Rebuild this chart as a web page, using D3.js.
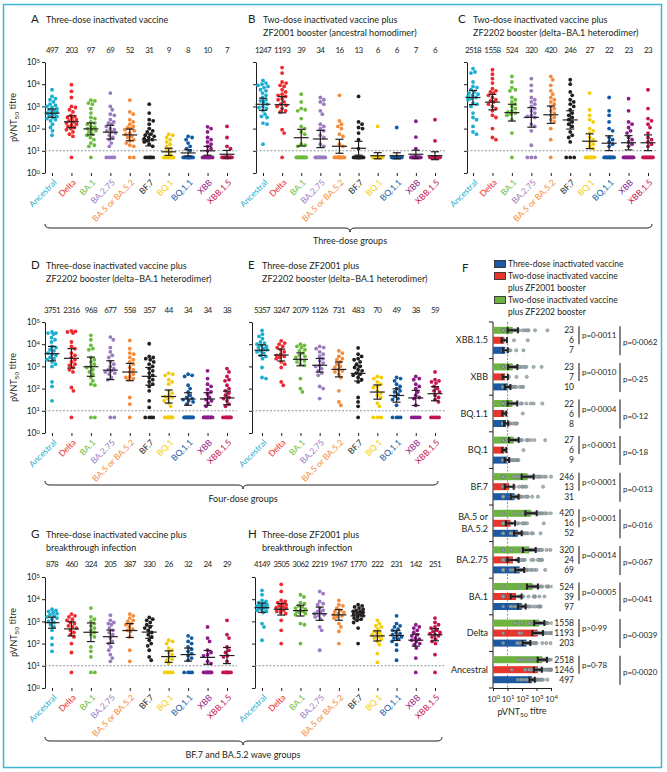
<!DOCTYPE html>
<html>
<head>
<meta charset="utf-8">
<script src="https://cdn.jsdelivr.net/npm/d3@7"></script>
<style>
body { margin: 0; background: #fff; }
svg { font-family: Lato, 'Open Sans', sans-serif; }
</style>
</head>
<body>
<div class="chart"></div>
<script>
var ink = '#231f20';

var cats = ['Ancestral', 'Delta', 'BA.1', 'BA.2.75', 'BA.5 or BA.5.2', 'BF.7', 'BQ.1', 'BQ.1.1', 'XBB', 'XBB.1.5'];
var catColors = ['#1aaed1', '#ee2a2e', '#6cbb3c', '#9b7bbf', '#f58b38', '#231f20', '#f4cd0a', '#0f5aa5', '#8b1b88', '#c4134f'];

// geometric mean titres printed above each column
var gmtA = [497, 203, 97, 69, 52, 31, 9, 8, 10, 7];
var gmtB = [1247, 1193, 39, 34, 16, 13, 6, 6, 7, 6];
var gmtC = [2518, 1558, 524, 320, 420, 246, 27, 22, 23, 23];
var gmtD = [3751, 2316, 968, 677, 558, 357, 44, 34, 34, 38];
var gmtE = [5357, 3247, 2079, 1126, 731, 483, 70, 49, 38, 59];
var gmtG = [878, 460, 324, 205, 387, 330, 26, 32, 24, 29];
var gmtH = [4149, 3505, 3062, 2219, 1967, 1770, 222, 231, 142, 251];

// individual titres, log10 pVNT50 (0.7 = below detection limit)
var titresA = [
  [3.75,3.45,3.35,3.3,3.2,3.1,3.05,3.0,2.95,2.9,2.85,2.8,2.75,2.7,2.7,2.65,2.6,2.55,2.5,2.45,2.4,2.35,2.2,2.05,1.9,1.7],
  [3.98,3.68,3.4,3.0,2.95,2.85,2.75,2.6,2.55,2.5,2.45,2.4,2.35,2.3,2.25,2.2,2.15,2.1,2.05,2.0,1.95,1.85,1.75,1.65,0.7],
  [3.28,3.25,3.15,3.1,2.9,2.7,2.5,2.45,2.3,2.25,2.2,2.1,2.05,2.0,1.95,1.9,1.85,1.75,1.7,1.6,1.5,1.35,1.25,1.2,0.7],
  [3.6,3.0,2.85,2.65,2.6,2.4,2.3,2.25,2.2,2.1,2.0,1.95,1.9,1.85,1.8,1.7,1.6,1.5,1.35,1.2,0.7,0.7,0.7,0.7,0.7],
  [3.28,2.75,2.65,2.4,2.3,2.2,2.1,2.05,2.0,1.95,1.9,1.8,1.75,1.65,1.6,1.5,1.45,1.35,1.25,1.2,0.7,0.7],
  [3.1,2.7,2.4,2.35,2.2,2.0,1.9,1.85,1.75,1.7,1.65,1.6,1.55,1.5,1.45,1.4,1.3,1.2,0.7,0.7,0.7,0.7,0.7,0.7],
  [1.75,1.7,1.6,1.5,1.4,1.3,1.2,1.1,1.0,0.9,0.7,0.7,0.7,0.7,0.7,0.7,0.7,0.7,0.7,0.7,0.7,0.7],
  [1.65,1.6,1.5,1.35,1.2,1.1,1.0,0.7,0.7,0.7,0.7,0.7,0.7,0.7,0.7,0.7,0.7,0.7,0.7,0.7,0.7],
  [2.08,2.0,1.85,1.6,1.5,1.4,1.3,1.2,1.1,1.0,0.7,0.7,0.7,0.7,0.7,0.7,0.7,0.7,0.7,0.7,0.7,0.7],
  [2.1,1.6,1.2,1.1,0.7,0.7,0.7,0.7,0.7,0.7,0.7,0.7,0.7,0.7,0.7,0.7,0.7,0.7,0.7]
];
var titresB = [
  [4.17,4.05,4.0,3.95,3.9,3.85,3.75,3.7,3.6,3.5,3.4,3.3,3.25,3.2,3.1,3.0,2.95,2.9,2.8,2.65,2.55,2.5,2.25,2.2,1.3],
  [4.75,4.5,4.1,4.05,3.95,3.9,3.75,3.65,3.55,3.5,3.45,3.35,3.3,3.2,3.1,3.05,3.0,2.9,2.8,2.75,1.95,1.8,0.7],
  [3.55,3.2,2.9,2.85,2.8,2.45,2.1,2.0,1.85,1.75,1.3,1.25,1.2,0.7,0.7,0.7,0.7,0.7,0.7,0.7,0.7,0.7,0.7,0.7,0.7],
  [3.4,3.3,3.2,3.1,2.8,2.65,2.2,2.1,2.0,1.9,1.7,1.6,1.3,1.2,0.7,0.7,0.7,0.7,0.7,0.7,0.7,0.7,0.7,0.7,0.7],
  [3.5,2.35,2.2,2.1,2.0,1.75,1.65,1.3,1.2,0.7,0.7,0.7,0.7,0.7,0.7,0.7,0.7,0.7,0.7,0.7,0.7,0.7,0.7],
  [3.45,2.3,2.2,2.05,2.0,1.8,1.5,1.1,0.7,0.7,0.7,0.7,0.7,0.7,0.7,0.7,0.7,0.7,0.7,0.7,0.7,0.7,0.7],
  [2.1,0.7,0.7,0.7,0.7,0.7,0.7,0.7,0.7,0.7,0.7,0.7,0.7,0.7,0.7,0.7,0.7,0.7,0.7,0.7],
  [2.05,0.7,0.7,0.7,0.7,0.7,0.7,0.7,0.7,0.7,0.7,0.7,0.7,0.7,0.7,0.7,0.7,0.7,0.7,0.7],
  [2.33,1.62,1.1,0.7,0.7,0.7,0.7,0.7,0.7,0.7,0.7,0.7,0.7,0.7,0.7,0.7,0.7,0.7,0.7,0.7],
  [2.4,1.45,0.7,0.7,0.7,0.7,0.7,0.7,0.7,0.7,0.7,0.7,0.7,0.7,0.7,0.7,0.7,0.7,0.7,0.7]
];
var titresC = [
  [4.7,4.55,4.5,4.1,3.9,3.85,3.75,3.65,3.6,3.55,3.5,3.45,3.4,3.35,3.3,3.15,3.1,3.0,2.7,2.5,2.4,2.1,1.85,1.75],
  [4.65,4.45,4.25,4.05,3.8,3.7,3.65,3.6,3.5,3.4,3.3,3.25,3.2,3.1,3.0,2.9,2.8,2.6,2.5,2.0,1.6,1.5],
  [4.35,4.1,3.85,3.75,3.7,3.4,3.3,3.2,3.1,3.0,2.9,2.8,2.75,2.7,2.65,2.6,2.4,1.8,0.7],
  [4.25,3.95,3.7,3.4,3.3,3.2,3.1,3.0,2.9,2.8,2.7,2.6,2.55,2.5,2.2,2.1,1.9,1.25,0.7,0.7,0.7],
  [4.35,4.2,3.95,3.7,3.55,3.4,3.3,3.2,3.1,3.0,2.9,2.8,2.7,2.6,2.5,2.4,2.3,2.0,1.5,0.7],
  [4.2,4.0,3.65,3.5,3.3,3.2,3.1,3.0,2.85,2.7,2.6,2.5,2.4,2.3,2.2,2.1,1.85,1.7,1.6,1.4,0.7,0.7,0.7],
  [3.6,2.85,2.6,2.4,2.3,2.0,1.9,1.8,1.6,1.5,1.4,1.3,1.2,1.1,0.7,0.7,0.7,0.7,0.7,0.7,0.7,0.7,0.7,0.7],
  [3.4,2.8,2.6,2.3,2.0,1.9,1.6,1.5,1.4,1.3,1.2,0.7,0.7,0.7,0.7,0.7,0.7,0.7,0.7,0.7,0.7,0.7,0.7],
  [3.35,2.8,2.3,2.2,2.05,1.9,1.8,1.6,1.5,1.4,1.3,1.2,0.7,0.7,0.7,0.7,0.7,0.7,0.7,0.7,0.7,0.7,0.7],
  [3.75,2.9,2.45,2.35,2.2,2.05,1.8,1.6,1.5,1.4,1.3,1.2,0.7,0.7,0.7,0.7,0.7,0.7,0.7,0.7,0.7,0.7,0.7]
];
var titresD = [
  [4.55,4.5,4.5,4.45,4.3,4.2,4.1,3.9,3.85,3.75,3.7,3.6,3.55,3.5,3.4,3.35,3.3,3.2,3.1,3.0,2.3,2.1,1.45],
  [4.6,4.58,4.55,4.5,4.1,3.9,3.8,3.6,3.5,3.4,3.3,3.2,3.1,3.05,2.95,2.85,2.75,2.05,1.9,0.7],
  [4.4,4.2,3.95,3.8,3.75,3.4,3.3,3.2,3.1,3.0,2.95,2.85,2.75,2.65,2.5,2.35,2.2,2.15,0.7,0.7],
  [4.32,4.2,3.85,3.65,3.5,3.4,3.2,3.1,3.0,2.9,2.85,2.8,2.75,2.7,2.65,2.5,2.4,0.7,0.7],
  [4.17,3.8,3.6,3.55,3.4,3.3,3.2,3.1,2.95,2.85,2.75,2.65,2.55,2.5,2.45,2.4,1.6,1.3,0.7],
  [4.02,3.45,3.4,3.35,3.3,3.2,3.1,3.0,2.9,2.8,2.7,2.6,2.5,2.4,2.3,2.2,2.1,1.9,1.45,1.15,0.7,0.7,0.7,0.7],
  [2.7,2.65,2.6,2.4,2.3,2.2,1.9,1.8,1.7,1.65,1.6,1.55,1.45,1.35,1.2,0.7,0.7,0.7,0.7,0.7,0.7,0.7,0.7],
  [2.65,2.6,2.55,2.15,2.0,1.85,1.7,1.6,1.55,1.5,1.45,1.4,1.3,0.7,0.7,0.7,0.7,0.7,0.7,0.7,0.7,0.7,0.7],
  [2.8,2.45,2.2,2.1,1.95,1.85,1.75,1.6,1.5,1.45,1.35,1.2,0.7,0.7,0.7,0.7,0.7,0.7,0.7,0.7,0.7,0.7],
  [2.9,2.75,2.55,2.4,2.35,2.15,2.0,1.9,1.8,1.7,1.6,1.55,1.45,1.3,1.2,0.7,0.7,0.7,0.7,0.7,0.7,0.7,0.7]
];
var titresE = [
  [4.62,4.45,4.35,4.25,4.1,4.05,4.0,3.95,3.9,3.85,3.8,3.75,3.7,3.65,3.6,3.5,3.45,3.35,2.95,2.5,2.45],
  [4.15,4.05,4.0,3.9,3.85,3.75,3.65,3.55,3.5,3.45,3.4,3.35,3.2,3.1,2.95,2.3,2.15],
  [4.0,3.95,3.9,3.85,3.75,3.7,3.6,3.5,3.45,3.4,3.3,3.25,3.2,3.1,3.05,2.45,2.0,1.85],
  [3.9,3.85,3.8,3.65,3.55,3.45,3.35,3.25,3.15,3.05,3.0,2.9,2.8,2.7,2.6,2.1,2.0,1.55],
  [3.7,3.6,3.45,3.35,3.3,3.2,3.1,3.0,2.95,2.85,2.8,2.75,2.65,2.5,1.9,1.4,1.25],
  [3.83,3.55,3.45,3.35,3.3,3.2,3.1,3.0,2.95,2.85,2.8,2.7,2.65,2.6,2.5,2.4,2.3,1.6,1.4,1.2,0.7],
  [2.55,2.5,2.45,2.3,2.2,2.1,2.05,1.9,1.8,1.7,1.6,1.35,1.2,0.7,0.7,0.7,0.7],
  [2.5,2.45,2.35,2.2,2.1,2.0,1.9,1.85,1.75,1.65,1.55,1.5,1.25,0.7,0.7,0.7,0.7],
  [2.55,2.45,2.4,2.2,2.1,2.0,1.85,1.7,1.6,1.55,1.25,0.7,0.7,0.7,0.7,0.7],
  [2.75,2.4,2.35,2.3,2.25,2.1,2.0,1.9,1.85,1.7,1.6,1.5,1.4,0.7,0.7,0.7,0.7,0.7]
];
var titresG = [
  [3.55,3.5,3.45,3.4,3.35,3.3,3.25,3.2,3.15,3.1,3.0,2.95,2.85,2.75,2.6,2.25,1.95,1.65],
  [3.33,3.25,3.2,3.1,3.05,2.95,2.9,2.8,2.75,2.7,2.6,2.5,2.4,2.3,2.0,1.6,0.7],
  [3.6,3.2,3.1,3.0,2.9,2.8,2.7,2.6,2.5,2.4,2.3,1.85,1.65,1.4,0.7,0.7],
  [3.28,3.05,2.95,2.9,2.85,2.7,2.6,2.5,2.4,2.25,2.1,2.0,1.85,1.7,1.5,1.35,1.2],
  [3.33,3.25,3.15,3.05,3.0,2.9,2.85,2.75,2.65,2.6,2.55,2.3,1.7,1.2],
  [3.18,3.1,3.05,2.95,2.85,2.75,2.7,2.6,2.5,2.4,2.3,2.15,2.0,1.9,1.7,1.4,1.25],
  [2.15,2.1,2.0,1.8,1.7,1.6,1.5,1.4,1.3,1.25,1.1,0.7,0.7,0.7,0.7,0.7],
  [2.35,2.25,2.1,2.0,1.85,1.75,1.65,1.55,1.45,1.35,1.25,0.7,0.7,0.7,0.7],
  [2.75,2.25,2.1,1.7,1.6,1.5,1.45,1.2,1.1,0.7,0.7,0.7,0.7,0.7,0.7,0.7,0.7],
  [3.05,2.4,2.25,1.85,1.7,1.6,1.45,1.4,1.2,0.7,0.7,0.7,0.7,0.7,0.7,0.7]
];
var titresH = [
  [4.4,4.2,3.95,3.9,3.85,3.8,3.75,3.72,3.7,3.68,3.65,3.62,3.6,3.58,3.55,3.5,3.45,3.4,2.9,2.75,2.15],
  [4.67,4.35,3.95,3.9,3.85,3.8,3.75,3.7,3.65,3.62,3.6,3.55,3.5,3.45,3.4,3.35,3.05,2.6,2.0],
  [4.2,4.1,3.85,3.8,3.7,3.65,3.6,3.55,3.5,3.45,3.45,3.4,3.35,3.3,2.9,2.85,2.0],
  [4.35,4.25,3.9,3.8,3.75,3.6,3.5,3.45,3.4,3.35,3.3,3.25,3.2,3.1,2.75,2.6,1.7],
  [3.95,3.75,3.7,3.6,3.5,3.45,3.4,3.35,3.3,3.25,3.2,3.15,2.9,2.75,2.55,2.0],
  [3.75,3.7,3.65,3.6,3.55,3.5,3.45,3.45,3.4,3.35,3.3,3.3,3.25,3.2,3.15,3.1,3.05,2.95,2.7,2.0],
  [3.05,2.9,2.8,2.75,2.65,2.55,2.5,2.45,2.4,2.35,2.3,2.25,2.2,2.1,1.95,1.55,1.15],
  [3.25,2.9,2.8,2.75,2.65,2.6,2.5,2.45,2.4,2.35,2.3,2.25,2.2,2.1,1.95,1.7,1.25],
  [2.85,2.75,2.7,2.6,2.5,2.4,2.35,2.25,2.2,2.15,2.1,2.0,1.95,1.8,1.35,0.7],
  [3.15,2.95,2.85,2.75,2.7,2.6,2.55,2.5,2.45,2.4,2.35,2.3,2.2,2.1,2.0,1.5,0.7]
];

// panel F (bar lengths = GMT, as printed on the right)
var fGreen = [2518, 1558, 524, 320, 420, 246, 27, 22, 23, 23];
var fRed = [1246, 1193, 39, 24, 16, 13, 6, 6, 7, 6];
var fBlue = [497, 203, 97, 69, 52, 31, 9, 8, 10, 7];
var pGreenRed = ['p=0·78', 'p>0·99', 'p=0·0005', 'p=0·0014', 'p<0·0001', 'p<0·0001', 'p<0·0001', 'p=0·0004', 'p=0·0010', 'p=0·0011'];
var pGreenBlue = ['p=0·0020', 'p=0·0039', 'p=0·041', 'p=0·067', 'p=0·016', 'p=0·013', 'p=0·18', 'p=0·12', 'p=0·25', 'p=0·0062'];

var decades = [1, 10, 100, 1e3, 1e4, 1e5];

var svg = d3.select('.chart')
  .append('svg')
    .attr('width', 667)
    .attr('height', 772);

svg.append('rect')
  .attr('x', 3.5).attr('y', 4.5)
  .attr('width', 658).attr('height', 763)
  .attr('fill', 'none')
  .attr('stroke', '#3db5d3')
  .attr('stroke-width', 1.5);

// simple beeswarm: nudge sideways so dots don't overlap, capped width
function swarm(ys, r, maxOff) {
  var placed = [], offs = [];
  var cand = [0];
  for (var k = 0.5; k <= maxOff; k += 0.5) cand.push(k, -k);
  ys.forEach(function(py) {
    var best = 0, bestD = -1;
    for (var c = 0; c < cand.length; c++) {
      var dmin = Infinity;
      placed.forEach(function(q) {
        var d = Math.hypot(q[0] - cand[c], q[1] - py);
        if (d < dmin) dmin = d;
      });
      if (dmin >= 2 * r) { best = cand[c]; break; }
      if (dmin > bestD + 0.01) { bestD = dmin; best = cand[c]; }
    }
    placed.push([best, py]);
    offs.push(best);
  });
  return offs;
}

// 95% CI half width in log10 units
function ciHalf(vals) {
  return 1.96 * d3.deviation(vals) / Math.sqrt(vals.length);
}

function pow10(d) {
  var t = d3.select(this);
  t.append('tspan').text('10');
  t.append('tspan').attr('dy', '-0.45em').style('font-size', '6px').text(Math.round(Math.log10(d)));
}

function yLabel(g, x, y) {
  var t = g.append('text')
    .attr('transform', `translate(${x},${y}) rotate(-90)`)
    .attr('text-anchor', 'middle')
    .attr('fill', ink)
    .style('font-size', '9px');
  t.append('tspan').text('pVNT');
  t.append('tspan').attr('dy', '0.35em').style('font-size', '6.5px').text('50');
  t.append('tspan').attr('dy', '-0.35em').text(' titre');
}

// d3 axes set their own font attrs on the group; drop them so the page font applies
function plainAxis(sel) {
  sel.attr('font-family', null).attr('font-size', null).attr('text-anchor', null);
  sel.selectAll('path, line').attr('stroke', ink);
  sel.selectAll('.tick text').remove();
}

var panels = [
  {letter: 'A', title: ['Three-dose inactivated vaccine'], gmt: gmtA, titres: titresA,
   ax: 45, c0: 52, c1: 227, top: 62, bottom: 173, lx: 31, tx: 46, ty: 23, numY: 53, labels: true},
  {letter: 'B', title: ['Two-dose inactivated vaccine plus', 'ZF2001 booster (ancestral homodimer)'], gmt: gmtB, titres: titresB,
   ax: 256, c0: 263, c1: 435, top: 62, bottom: 173, lx: 248, tx: 263, ty: 23, numY: 53, labels: false},
  {letter: 'C', title: ['Two-dose inactivated vaccine plus', 'ZF2202 booster (delta–BA.1 heterodimer)'], gmt: gmtC, titres: titresC,
   ax: 467, c0: 473, c1: 648, top: 62, bottom: 173, lx: 458, tx: 473, ty: 23, numY: 53, labels: false},
  {letter: 'D', title: ['Three-dose inactivated vaccine plus', 'ZF2202 booster (delta–BA.1 heterodimer)'], gmt: gmtD, titres: titresD,
   ax: 45, c0: 52, c1: 227, top: 322, bottom: 433, lx: 31, tx: 46, ty: 269, numY: 313, labels: true},
  {letter: 'E', title: ['Three-dose ZF2001 plus', 'ZF2202 booster (delta–BA.1 heterodimer)'], gmt: gmtE, titres: titresE,
   ax: 252, c0: 262, c1: 435, top: 322, bottom: 433, lx: 248, tx: 262, ty: 269, numY: 313, labels: false},
  {letter: 'G', title: ['Three-dose inactivated vaccine plus', 'breakthrough infection'], gmt: gmtG, titres: titresG,
   ax: 45, c0: 52, c1: 227, top: 577, bottom: 688, lx: 31, tx: 46, ty: 538, numY: 567, labels: true},
  {letter: 'H', title: ['Three-dose ZF2001 plus', 'breakthrough infection'], gmt: gmtH, titres: titresH,
   ax: 255, c0: 262, c1: 435, top: 577, bottom: 688, lx: 248, tx: 262, ty: 538, numY: 567, labels: false}
];

function drawPanel(p) {
  var g = svg.append('g');
  var y = d3.scaleLog().domain([1, 1e5]).range([p.bottom, p.top]);
  var x = d3.scalePoint().domain(cats).range([p.c0, p.c1]);

  g.append('text').attr('x', p.lx).attr('y', p.ty).attr('fill', ink)
    .style('font-size', '11.5px').text(p.letter);
  p.title.forEach(function(line, i) {
    g.append('text').attr('x', p.tx).attr('y', p.ty + i * 12.5).attr('fill', ink)
      .style('font-size', '9px').text(line);
  });

  var ya = g.append('g')
    .attr('transform', `translate(${p.ax},0)`)
    .call(d3.axisLeft(y).tickValues(decades).tickSize(3).tickSizeOuter(0))
    .call(plainAxis);
  if (p.labels) {
    ya.selectAll('.tick').append('text')
      .attr('x', -5).attr('dy', '0.32em')
      .attr('text-anchor', 'end').attr('fill', ink)
      .style('font-size', '8.5px')
      .each(pow10);
    yLabel(g, 17, (p.top + p.bottom) / 2);
  }

  var xa = g.append('g')
    .attr('transform', `translate(0,${p.bottom})`)
    .call(d3.axisBottom(x).tickSize(3).tickSizeOuter(0))
    .call(plainAxis);
  xa.select('.domain').remove();

  // rotated category labels
  cats.forEach(function(c, i) {
    g.append('text')
      .attr('transform', `translate(${x(c) + 3},${p.bottom + 8}) rotate(-45)`)
      .attr('text-anchor', 'end')
      .attr('dy', '0.35em')
      .attr('fill', catColors[i])
      .style('font-size', '8.5px')
      .text(c);
  });

  g.append('line')
    .attr('x1', p.ax).attr('x2', p.c1 + 10)
    .attr('y1', y(10)).attr('y2', y(10))
    .attr('stroke', '#8d979a')
    .attr('stroke-width', 1.1)
    .attr('stroke-dasharray', '2,1.6');

  g.selectAll('.gmt')
    .data(p.gmt)
    .enter()
    .append('text')
    .attr('x', (d, i) => x(cats[i]))
    .attr('y', p.numY)
    .attr('text-anchor', 'middle')
    .attr('fill', ink)
    .style('font-size', '8px')
    .style('letter-spacing', '-0.6px')
    .text(d => d);

  cats.forEach(function(c, i) {
    var vals = p.titres[i];
    var ys = vals.map(v => y(Math.pow(10, v)));
    var offs = swarm(ys, 1.9, 5);
    g.append('g').selectAll('circle')
      .data(vals)
      .enter()
      .append('circle')
      .attr('cx', (d, j) => x(c) + offs[j])
      .attr('cy', (d, j) => ys[j])
      .attr('r', 1.9)
      .attr('fill', catColors[i]);

    var m = Math.log10(p.gmt[i]);
    var hw = ciHalf(vals);
    var cx = x(c);
    var lo = y(Math.pow(10, m - hw)), hi = y(Math.pow(10, m + hw));
    var eb = g.append('g').attr('stroke', ink).attr('stroke-width', 1.2);
    eb.append('line').attr('x1', cx).attr('x2', cx).attr('y1', lo).attr('y2', hi);
    eb.append('line').attr('x1', cx - 4).attr('x2', cx + 4).attr('y1', lo).attr('y2', lo);
    eb.append('line').attr('x1', cx - 4).attr('x2', cx + 4).attr('y1', hi).attr('y2', hi);
    eb.append('line').attr('x1', cx - 7.5).attr('x2', cx + 7.5).attr('y1', y(p.gmt[i])).attr('y2', y(p.gmt[i]));
  });
}

panels.forEach(drawPanel);

// group braces
var braces = [
  {x0: 45, x1: 652, y: 228, cx: 350, label: 'Three-dose groups', ty: 244},
  {x0: 45, x1: 438, y: 485, cx: 243, label: 'Four-dose groups', ty: 502},
  {x0: 45, x1: 442, y: 741, cx: 243, label: 'BF.7 and BA.5.2 wave groups', ty: 758}
];
braces.forEach(function(b) {
  svg.append('path')
    .attr('d', `M${b.x0},${b.y - 4} Q${b.x0},${b.y} ${b.x0 + 5},${b.y} L${b.cx - 5},${b.y} Q${b.cx},${b.y} ${b.cx},${b.y + 4} Q${b.cx},${b.y} ${b.cx + 5},${b.y} L${b.x1 - 5},${b.y} Q${b.x1},${b.y} ${b.x1},${b.y - 4}`)
    .attr('fill', 'none')
    .attr('stroke', ink)
    .attr('stroke-width', 1);
  svg.append('text').attr('x', b.cx).attr('y', b.ty)
    .attr('text-anchor', 'middle').attr('fill', ink)
    .style('font-size', '9px').text(b.label);
});

// ---- panel F ----
var fg = svg.append('g');
fg.append('text').attr('x', 462).attr('y', 272).attr('fill', ink).style('font-size', '11.5px').text('F');

var legend = [
  {color: '#1b5aa3', lines: ['Three-dose inactivated vaccine'], y: 267},
  {color: '#e8352c', lines: ['Two-dose inactivated vaccine', 'plus ZF2001 booster'], y: 279},
  {color: '#6db33f', lines: ['Two-dose inactivated vaccine', 'plus ZF2202 booster'], y: 303}
];
legend.forEach(function(l) {
  fg.append('rect').attr('x', 494.5).attr('y', l.y - 6.5).attr('width', 11).attr('height', 7)
    .attr('fill', l.color).attr('stroke', ink).attr('stroke-width', 0.8);
  l.lines.forEach(function(t, i) {
    fg.append('text').attr('x', 508).attr('y', l.y + i * 12).attr('fill', ink)
      .style('font-size', '8.5px').text(t);
  });
});

var fy = d3.scaleBand().domain(cats.slice().reverse()).range([322, 688]);
var fs = d3.scaleBand().domain(['green', 'red', 'blue']).range([0, fy.bandwidth()]).paddingInner(0.3).paddingOuter(0.48);
var fx = d3.scaleLog().domain([1, 1e4]).range([493, 551]);

// plot area clip: dots beyond 10^4 fall off the axis
svg.append('defs').append('clipPath').attr('id', 'fclip')
  .append('rect').attr('x', fx(1)).attr('y', 320).attr('width', fx(1e4) - fx(1) + 1.5).attr('height', 370);

var fxa = fg.append('g')
  .attr('transform', 'translate(0,688)')
  .call(d3.axisBottom(fx).tickValues([1, 10, 100, 1e3, 1e4]).tickSize(3).tickSizeOuter(0))
  .call(plainAxis);
fxa.selectAll('.tick').append('text')
  .attr('y', 14).attr('text-anchor', 'middle').attr('fill', ink)
  .style('font-size', '8px')
  .each(pow10);
var fl = fg.append('text').attr('x', 522).attr('y', 715).attr('text-anchor', 'middle').attr('fill', ink).style('font-size', '9px');
fl.append('tspan').text('pVNT');
fl.append('tspan').attr('dy', '0.35em').style('font-size', '6.5px').text('50');
fl.append('tspan').attr('dy', '-0.35em').text(' titre');

fg.append('line').attr('x1', 493).attr('x2', 493).attr('y1', 322).attr('y2', 688).attr('stroke', ink);
var bounds = fy.domain().map(d => fy(d)).concat([fy.range()[1]]);
fg.selectAll('.gtick')
  .data(bounds)
  .enter()
  .append('line')
  .attr('x1', 489).attr('x2', 493)
  .attr('y1', d => d).attr('y2', d => d)
  .attr('stroke', ink);

fg.append('line')
  .attr('x1', fx(10)).attr('x2', fx(10))
  .attr('y1', 322).attr('y2', 688)
  .attr('stroke', '#8d979a').attr('stroke-width', 1.1).attr('stroke-dasharray', '2,1.6');

var fSeries = [
  {key: 'green', color: '#6db33f', gmt: fGreen, titres: titresC},
  {key: 'red', color: '#e8352c', gmt: fRed, titres: titresB},
  {key: 'blue', color: '#1b5aa3', gmt: fBlue, titres: titresA}
];

var fplot = fg.append('g').attr('clip-path', 'url(#fclip)');

cats.forEach(function(c, i) {
  var gy = fy(c);
  fSeries.forEach(function(s) {
    var by = gy + fs(s.key);
    var cy = by + fs.bandwidth() / 2;
    fplot.append('rect')
      .attr('x', fx(1)).attr('y', by)
      .attr('width', fx(s.gmt[i]) - fx(1))
      .attr('height', fs.bandwidth())
      .attr('fill', s.color);
    fplot.append('g').selectAll('circle')
      .data(s.titres[i])
      .enter()
      .append('circle')
      .attr('cx', d => fx(Math.pow(10, d)))
      .attr('cy', cy)
      .attr('r', 1.6)
      .attr('fill', '#9aa6aa')
      .attr('fill-opacity', 0.8)
      .attr('stroke', '#66777c')
      .attr('stroke-width', 0.5);
    var m = Math.log10(s.gmt[i]), hw = ciHalf(s.titres[i]);
    var lo = fx(Math.pow(10, m - hw)), hi = fx(Math.pow(10, m + hw));
    var eb = fplot.append('g').attr('stroke', ink).attr('stroke-width', 2);
    eb.append('line').attr('x1', lo).attr('x2', hi).attr('y1', cy).attr('y2', cy);
    eb.append('line').attr('x1', lo).attr('x2', lo).attr('y1', cy - 3).attr('y2', cy + 3);
    eb.append('line').attr('x1', hi).attr('x2', hi).attr('y1', cy - 3).attr('y2', cy + 3);
    fg.append('text')
      .attr('x', 574).attr('y', cy + 3)
      .attr('text-anchor', 'end').attr('fill', ink)
      .style('font-size', '8.5px')
      .text(s.gmt[i]);
  });

  var gc = gy + fs('green') + fs.bandwidth() / 2;
  var rc = gy + fs('red') + fs.bandwidth() / 2;
  var bc = gy + fs('blue') + fs.bandwidth() / 2;
  fg.append('line').attr('x1', 579).attr('x2', 579).attr('y1', gc - 4).attr('y2', rc + 4).attr('stroke', ink).attr('stroke-width', 1.1);
  fg.append('text').attr('x', 582).attr('y', (gc + rc) / 2 + 3).attr('fill', ink).style('font-size', '8px').text(pGreenRed[i]);
  fg.append('line').attr('x1', 620).attr('x2', 620).attr('y1', gc - 4).attr('y2', bc + 5).attr('stroke', ink).attr('stroke-width', 1.1);
  fg.append('text').attr('x', 623).attr('y', (gc + bc) / 2 + 5).attr('fill', ink).style('font-size', '8px').text(pGreenBlue[i]);

  var mid = gy + fy.bandwidth() / 2;
  var lab = c === 'BA.5 or BA.5.2' ? ['BA.5 or', 'BA.5.2'] : [c];
  lab.forEach(function(t, k) {
    fg.append('text')
      .attr('x', 488)
      .attr('y', mid + 3 + (k - (lab.length - 1) / 2) * 12)
      .attr('text-anchor', 'end').attr('fill', ink)
      .style('font-size', '9px')
      .text(t);
  });
});
</script>
</body>
</html>
